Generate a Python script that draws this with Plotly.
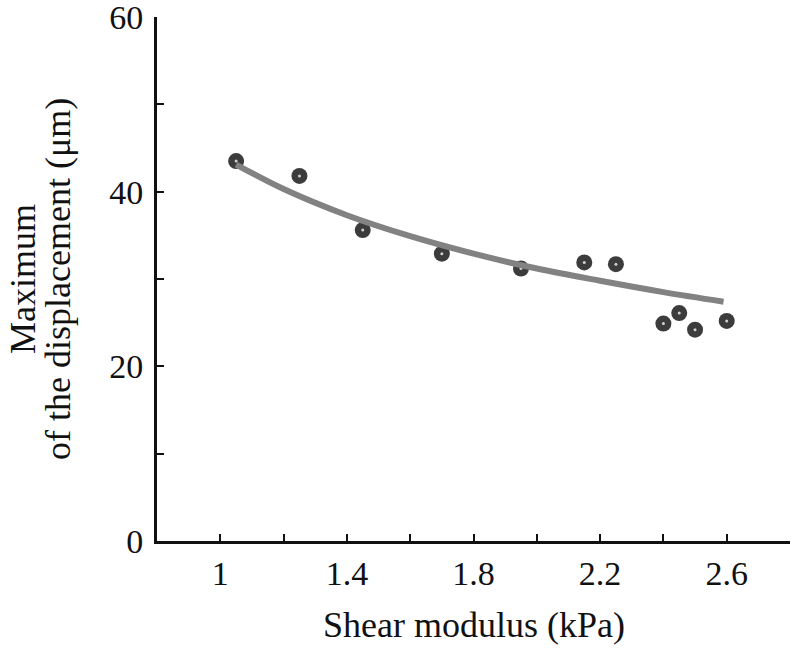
import plotly.graph_objects as go

# Measured points
shear_kpa = [1.05, 1.25, 1.45, 1.70, 1.95, 2.15, 2.25, 2.40, 2.45, 2.50, 2.60]
max_disp_um = [43.5, 41.8, 35.6, 32.9, 31.2, 31.9, 31.7, 24.9, 26.1, 24.2, 25.2]

# Fitted curve
fit_x = [1.05, 1.2, 1.4, 1.6, 1.8, 2.0, 2.2, 2.4, 2.59]
fit_y = [43.1, 40.3, 37.3, 34.9, 32.9, 31.2, 29.8, 28.5, 27.4]

x_tickvals = [1, 1.4, 1.8, 2.2, 2.6]
x_ticktext = ["1", "1.4", "1.8", "2.2", "2.6"]
x_minor = [1.2, 1.6, 2.0, 2.4]
y_tickvals = [0, 20, 40, 60]
y_ticktext = ["0", "20", "40", "60"]
y_minor = [10, 30, 50]

FONT = "Liberation Serif, Times New Roman, serif"
INK = "#111111"

fig = go.Figure()
fig.add_trace(go.Scatter(
    x=shear_kpa, y=max_disp_um, mode="markers",
    marker=dict(size=16, color="#3c3c3c", line=dict(width=0)),
    hoverinfo="skip", showlegend=False))
fig.add_trace(go.Scatter(
    x=shear_kpa, y=max_disp_um, mode="markers",
    marker=dict(size=3, color="#d0d0d0", line=dict(width=0)),
    hoverinfo="skip", showlegend=False))
fig.add_trace(go.Scatter(
    x=fit_x, y=fit_y, mode="lines",
    line=dict(color="#828282", width=6, shape="spline"),
    hoverinfo="skip", showlegend=False))

axis_common = dict(
    showgrid=False, zeroline=False, automargin=False,
    showline=True, linecolor=INK, linewidth=3,
    ticks="inside", ticklen=7, tickwidth=2, tickcolor=INK,
    tickfont=dict(family=FONT, size=34, color=INK),
    ticklabeloverflow="allow",
)

fig.update_layout(
    width=800, height=651, autosize=False,
    margin=dict(l=157, r=10, t=17, b=110),
    paper_bgcolor="white", plot_bgcolor="white",
    font=dict(family=FONT, size=34, color=INK),
    hovermode=False,
    xaxis=dict(
        range=[0.8, 2.8], tickvals=x_tickvals, ticktext=x_ticktext,
        minor=dict(tickvals=x_minor, ticks="inside", ticklen=7,
                   tickwidth=2, tickcolor=INK),
        ticklabelstandoff=0, **axis_common,
    ),
    yaxis=dict(
        range=[0, 60], tickvals=y_tickvals, ticktext=y_ticktext,
        minor=dict(tickvals=y_minor, ticks="inside", ticklen=7,
                   tickwidth=2, tickcolor=INK),
        ticklabelstandoff=4, **axis_common,
    ),
    annotations=[
        dict(text="Maximum", xref="paper", yref="paper",
             x=0, y=0.5, xanchor="center", yanchor="middle", xshift=-134,
             textangle=-90, showarrow=False, font=dict(family=FONT, size=36, color=INK)),
        dict(text="of the displacement (μm)", xref="paper", yref="paper",
             x=0, y=0.5, xanchor="center", yanchor="middle", xshift=-99,
             textangle=-90, showarrow=False, font=dict(family=FONT, size=36, color=INK)),
        dict(text="Shear modulus (kPa)", xref="paper", yref="paper",
             x=0.5, y=0, xanchor="center", yanchor="middle", yshift=-84,
             showarrow=False, font=dict(family=FONT, size=36, color=INK)),
    ],
)

fig.write_html("out.html", config={"displayModeBar": False},
               post_script="document.body.style.margin='0';")
